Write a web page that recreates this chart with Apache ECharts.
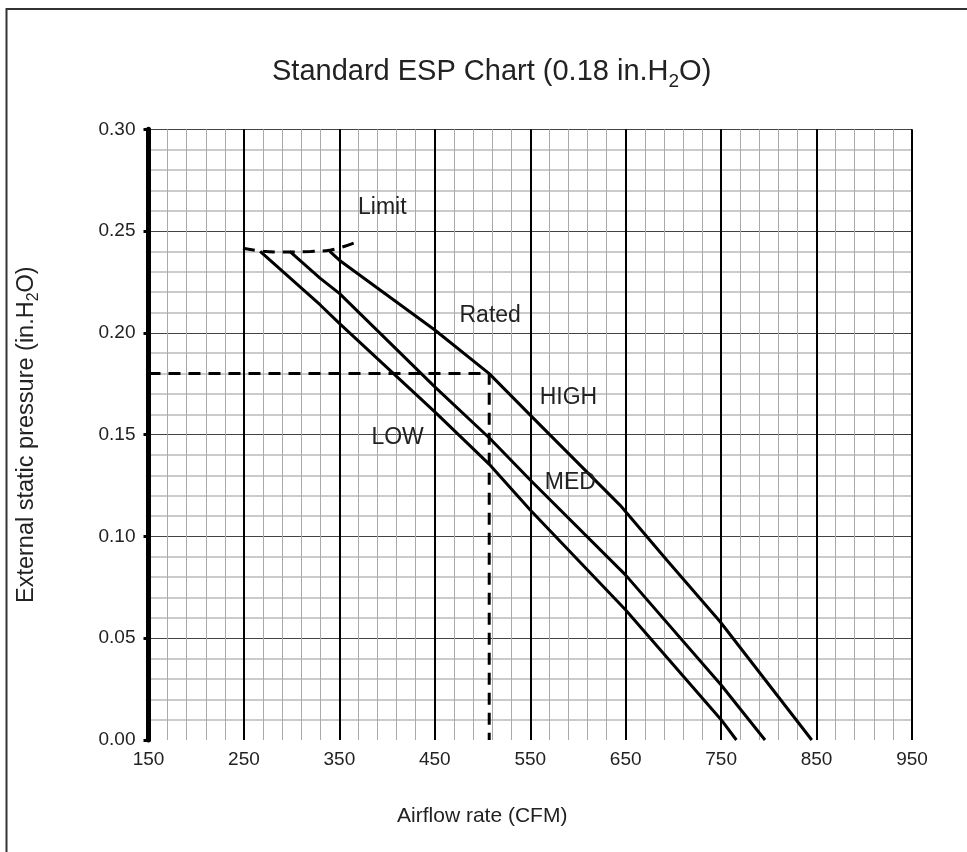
<!DOCTYPE html>
<html lang="en">
  <head>
    <meta charset="UTF-8" />
    <title>Standard ESP Chart</title>
    <script src="https://cdn.jsdelivr.net/npm/echarts@6.0.0/dist/echarts.min.js"></script>
    <style>
      html, body { margin: 0; padding: 0; background: #fff; }
      #main { width: 967px; height: 852px; }
    </style>
  </head>
  <body>
    <div id="main"></div>

    <script>
      // airflow (CFM) / static pressure (in.H2O)
      const lowCfm = [267, 330, 350, 450, 508, 550, 650, 750, 766];
      const lowEsp = [0.240, 0.2137, 0.2047, 0.1612, 0.135, 0.113, 0.0639, 0.0100, 0.0];

      const medCfm = [298, 330, 350, 450, 508, 550, 650, 750, 796];
      const medEsp = [0.240, 0.2268, 0.2194, 0.1735, 0.148, 0.1277, 0.081, 0.027, 0.0];

      const highCfm = [340, 350, 450, 507, 550, 644, 693, 749, 845];
      const highEsp = [0.240, 0.2357, 0.2014, 0.180, 0.1596, 0.1154, 0.0884, 0.0581, 0.0];

      const limitCfm = [249, 270, 298, 320, 340, 366];
      const limitEsp = [0.2416, 0.2401, 0.2397, 0.2400, 0.2406, 0.2443];

      // rated point guide: 0.18 in.H2O
      const ratedCfm = [150, 507, 507];
      const ratedEsp = [0.18, 0.18, 0.0];

      const noteText = ['Limit', 'Rated', 'HIGH', 'LOW', 'MED'];
      const noteCfm = [395, 508, 590, 411, 592];
      const noteEsp = [0.2613, 0.2083, 0.168, 0.1483, 0.1262];

      const zip = (xs, ys) => xs.map((x, i) => [x, ys[i]]);

      const fontFamily = '"Liberation Sans", Arial, sans-serif';

      function curve(name, xs, ys, dashed, smooth) {
        return {
          name: name,
          type: 'line',
          data: zip(xs, ys),
          showSymbol: false,
          smooth: smooth || false,
          lineStyle: {
            color: '#000',
            width: 3,
            type: dashed ? [12, 8] : 'solid',
          },
          z: 5,
        };
      }

      const chart = echarts.init(document.getElementById('main'));

      chart.setOption({
        animation: false,
        textStyle: { fontFamily: fontFamily },
        title: {
          text: '{t|Standard ESP Chart (0.18 in.H}{s|2}{t|O)}',
          left: 267,
          top: 48,
          textStyle: {
            rich: {
              t: { fontSize: 29, fontWeight: 'normal', lineHeight: 38, color: '#222', fontFamily: fontFamily },
              s: { fontSize: 19, fontWeight: 'normal', lineHeight: 18, verticalAlign: 'bottom', color: '#222', fontFamily: fontFamily },
            },
          },
        },
        graphic: [
          {
            type: 'rect',
            shape: { x: 6.5, y: 9, width: 2000, height: 2000 },
            style: { fill: 'none', stroke: '#333', lineWidth: 2 },
            silent: true,
          },
        ],
        grid: { left: 148.5, right: 55, top: 129.3, bottom: 112, outerBoundsMode: 'none' },
        xAxis: {
          type: 'value',
          min: 150,
          max: 950,
          interval: 100,
          name: 'Airflow rate (CFM)',
          nameLocation: 'middle',
          nameGap: 66,
          nameTextStyle: { fontSize: 21, color: '#222', padding: [0, 96, 0, 0] },
          axisLine: { show: false },
          axisTick: { show: false },
          axisLabel: { fontSize: 19, color: '#222', margin: 10 },
          splitLine: { lineStyle: { color: '#000', width: 2 } },
          minorTick: { show: false, splitNumber: 5 },
          minorSplitLine: { show: true, lineStyle: { color: '#aaa', width: 1 } },
        },
        yAxis: {
          type: 'value',
          min: 0,
          max: 0.3,
          interval: 0.05,
          name: '{a|External static pressure (in.H}{s|2}{a|O)}',
          nameLocation: 'middle',
          nameGap: 101,
          nameTextStyle: {
            padding: [0, 0, 6, 0],
            rich: {
              a: { fontSize: 23.5, lineHeight: 30, color: '#222', fontFamily: fontFamily },
              s: { fontSize: 16, lineHeight: 15, verticalAlign: 'bottom', color: '#222', fontFamily: fontFamily },
            },
          },
          axisLine: { show: true, onZero: false, lineStyle: { color: '#000', width: 5 } },
          axisTick: { show: true, length: 5, lineStyle: { color: '#000', width: 3 } },
          axisLabel: {
            fontSize: 19,
            color: '#222',
            margin: 13,
            formatter: (v) => v.toFixed(2),
          },
          splitLine: { showMinLine: false, lineStyle: { color: '#444', width: 1 } },
          minorTick: { show: false, splitNumber: 5 },
          minorSplitLine: { show: true, lineStyle: { color: '#cbcbcb', width: 2 } },
        },
        series: [
          curve('LOW', lowCfm, lowEsp, false),
          curve('MED', medCfm, medEsp, false),
          curve('HIGH', highCfm, highEsp, false),
          curve('Limit', limitCfm, limitEsp, true, 0.4),
          curve('Rated', ratedCfm, ratedEsp, true),
          {
            name: 'notes',
            type: 'scatter',
            symbolSize: 0,
            itemStyle: { opacity: 1 },
            data: noteText.map((t, i) => ({ value: [noteCfm[i], noteEsp[i]], name: t })),
            label: {
              show: true,
              position: 'inside',
              formatter: (p) => p.name,
              fontSize: 23,
              color: '#222',
              opacity: 1,
            },
            z: 6,
          },
        ],
      });

      window.onresize = function () {
        chart.resize();
      };
    </script>
  </body>
</html>
